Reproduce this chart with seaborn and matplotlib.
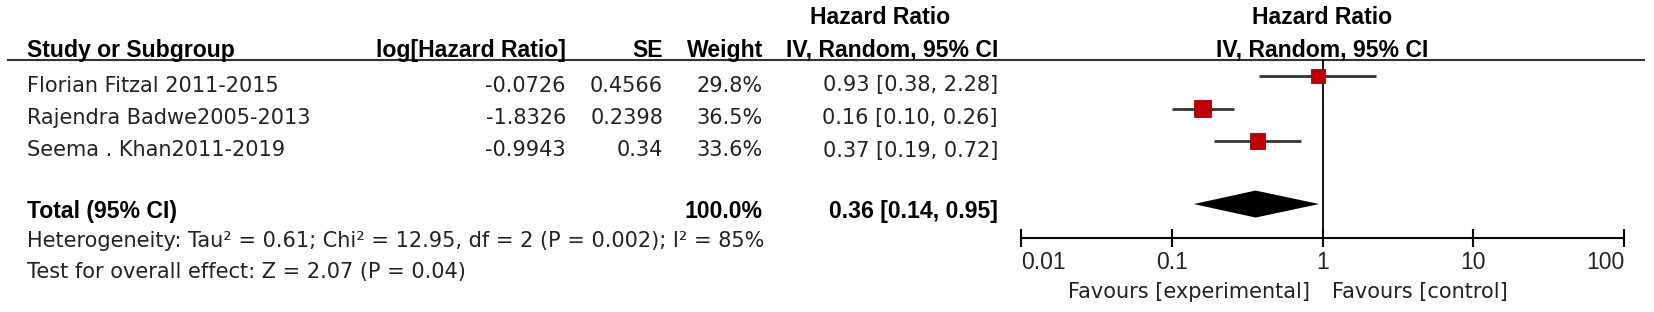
import matplotlib
matplotlib.use("Agg")
import matplotlib.pyplot as plt
import seaborn as sns
import pandas as pd
from matplotlib.ticker import NullLocator

# Study data
studies = ["Florian Fitzal 2011-2015", "Rajendra Badwe2005-2013", "Seema . Khan2011-2019"]
log_hr = ["-0.0726", "-1.8326", "-0.9943"]
se = ["0.4566", "0.2398", "0.34"]
weight = [29.8, 36.5, 33.6]
hr = [0.93, 0.16, 0.37]
hr_lo = [0.38, 0.10, 0.19]
hr_hi = [2.28, 0.26, 0.72]

# Pooled estimate
total_hr = 0.36
total_lo = 0.14
total_hi = 0.95
total_weight = "100.0%"
heterogeneity = "Heterogeneity: Tau\u00b2 = 0.61; Chi\u00b2 = 12.95, df = 2 (P = 0.002); I\u00b2 = 85%"
overall_effect = "Test for overall effect: Z = 2.07 (P = 0.04)"

tick_values = [0.01, 0.1, 1, 10, 100]
tick_labels = ["0.01", "0.1", "1", "10", "100"]

W, H = 1654, 312
sns.set_theme(style="white")
plt.rcParams['font.family'] = ['DejaVu Sans']

fig = plt.figure(figsize=(W / 100, H / 100), dpi=100)

# table area: an axes in pixel units covering the whole figure
tab = fig.add_axes([0, 0, 1, 1])
tab.set_xlim(0, W)
tab.set_ylim(H, 0)
tab.axis('off')

REG = 15.0
TXT = '#222222'
bold = dict(fontsize=16.6, fontweight='bold', family='Liberation Sans', color='black', va='baseline')
reg = dict(fontsize=REG, color=TXT, va='baseline')

# row layout (pixels from top)
row_px0 = 76
row_step = 32.5
total_row = 3.94
base_off = 15.5

# header
tab.text(880, 24, "Hazard Ratio", ha='center', **bold)
tab.text(27, 57, "Study or Subgroup", ha='left', **bold)
tab.text(566, 57, "log[Hazard Ratio]", ha='right', **bold)
tab.text(663, 57, "SE", ha='right', **bold)
tab.text(763, 57, "Weight", ha='right', **bold)
tab.text(998, 57, "IV, Random, 95% CI", ha='right', **bold)
tab.text(1322, 24, "Hazard Ratio", ha='center', **bold)
tab.text(1322, 57, "IV, Random, 95% CI", ha='center', **bold)
tab.plot([7, 1645], [60, 60], color='#333333', lw=1.5, solid_capstyle='butt')

# study rows
for i, name in enumerate(studies):
    y = row_px0 + i * row_step + base_off
    tab.text(27, y, name, **reg)
    tab.text(566, y, log_hr[i], ha='right', **reg)
    tab.text(663, y, se[i], ha='right', **reg)
    tab.text(763, y, f"{weight[i]:.1f}%", ha='right', **reg)
    tab.text(998, y, f"{hr[i]:.2f} [{hr_lo[i]:.2f}, {hr_hi[i]:.2f}]", ha='right', **reg)

# total rows
y_tot = row_px0 + total_row * row_step + 14
tab.text(27, y_tot, "Total (95% CI)", **bold)
tab.text(763, y_tot, total_weight, ha='right', **bold)
tab.text(998, y_tot, f"{total_hr:.2f} [{total_lo:.2f}, {total_hi:.2f}]", ha='right', **bold)
tab.text(27, 247, heterogeneity, **reg)
tab.text(27, 278, overall_effect, **reg)

# forest plot axes, placed so the log axis runs 0.01..100 over px 1021..1624
x0, x1 = 1021, 1624
ytop, ybot = 60, 238
ax = fig.add_axes([x0 / W, (H - ybot) / H, (x1 - x0) / W, (ybot - ytop) / H])
ax.patch.set_alpha(0)
ax.set_xscale('log')
ax.set_xlim(0.01, 100)
ax.set_ylim((ybot - row_px0) / row_step, (ytop - row_px0) / row_step)

rows = list(range(len(studies)))
ax.hlines(rows, hr_lo, hr_hi, color='#333333', lw=2.0, zorder=2)
df = pd.DataFrame({'hr': hr, 'row': rows, 'weight': weight})
sns.scatterplot(data=df, x='hr', y='row', size='weight', sizes=(100, 135), marker='s',
                color='#C00000', edgecolor='#A00000', linewidth=0.6, legend=False, ax=ax, zorder=3)

# pooled diamond
dh = 13.5 / row_step
ax.fill([total_lo, total_hr, total_hi, total_hr],
        [total_row, total_row - dh, total_row, total_row + dh], color='black', lw=0, zorder=3)

ax.axvline(1, color='black', lw=1.3, zorder=1)

for s in ['left', 'right', 'top']:
    ax.spines[s].set_visible(False)
ax.spines['bottom'].set_color('black')
ax.spines['bottom'].set_linewidth(1.5)
ax.set_xticks(tick_values)
ax.set_xticklabels(tick_labels, fontsize=16.5, color=TXT, family='Liberation Sans')
ax.xaxis.set_minor_locator(NullLocator())
ax.tick_params(axis='x', direction='inout', length=13, width=1.5, pad=3, color='black', bottom=True)
labels = ax.get_xticklabels()
labels[0].set_horizontalalignment('left')
labels[-1].set_horizontalalignment('right')
ax.set_yticks([])
ax.set_xlabel('')
ax.set_ylabel('')

# favours labels
tab.text(1310, 292, "Favours [experimental]", fontsize=REG, color=TXT, ha='right', va='center')
tab.text(1332, 292, "Favours [control]", fontsize=REG, color=TXT, ha='left', va='center')

fig.savefig('out.png', dpi=100, facecolor='white')
